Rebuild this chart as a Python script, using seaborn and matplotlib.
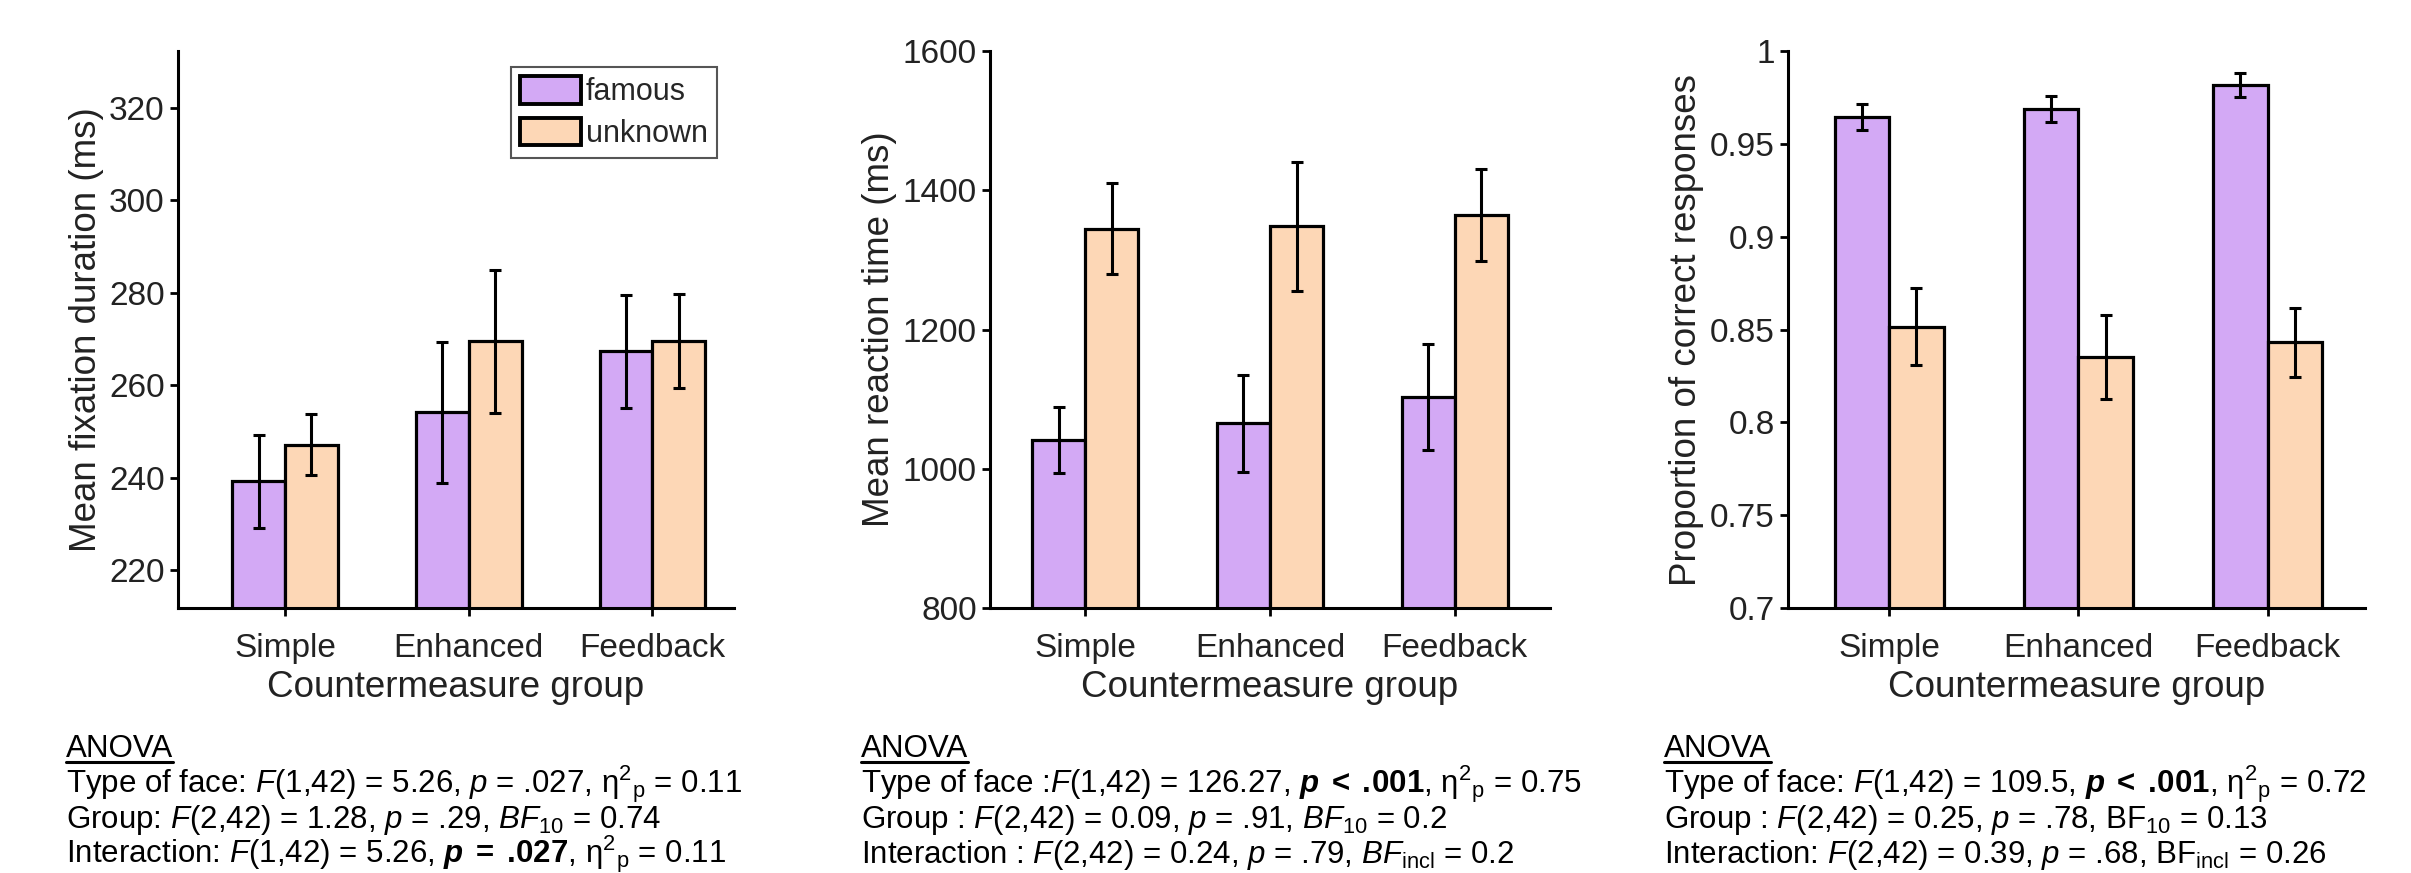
import seaborn as sb
import matplotlib.pyplot as plt
import matplotlib.patches as mpatches
from matplotlib.lines import Line2D
import pandas as pd

sb.set_style('ticks')
plt.rcParams['font.family'] = ['Liberation Sans', 'DejaVu Sans']
plt.rcParams['mathtext.fontset'] = 'custom'
plt.rcParams['mathtext.rm'] = 'Liberation Sans'
plt.rcParams['mathtext.it'] = 'Liberation Sans:italic'
plt.rcParams['mathtext.bf'] = 'Liberation Sans:bold'
plt.rcParams['mathtext.bfit'] = 'Liberation Sans:italic:bold'

groups = ['Simple', 'Enhanced', 'Feedback']
faces = ['famous', 'unknown']
colors = ['#D3A9F5', '#FDD7B6']

# fixation duration (ms)
fix_famous = [239.2, 254.1, 267.3]
fix_famous_err = [10.0, 15.3, 12.2]
fix_unknown = [247.1, 269.5, 269.6]
fix_unknown_err = [6.6, 15.5, 10.2]

# reaction time (ms)
rt_famous = [1041, 1065, 1103]
rt_famous_err = [47, 69, 76]
rt_unknown = [1345, 1348, 1364]
rt_unknown_err = [65, 92, 66]

# proportion correct
acc_famous = [0.9646, 0.9688, 0.9817]
acc_famous_err = [0.0070, 0.0072, 0.0063]
acc_unknown = [0.8515, 0.8351, 0.8431]
acc_unknown_err = [0.0207, 0.0225, 0.0185]

eta = r"$\mathrm{η}^{2}{}_{\mathrm{p}}$"
anova_fix = [
    r"Type of face: $F$(1,42) = 5.26, $p$ = .027, " + eta + " = 0.11",
    r"Group: $F$(2,42) = 1.28, $p$ = .29, $BF_{\mathrm{10}}$ = 0.74",
    r"Interaction: $F$(1,42) = 5.26, $\mathbfit{p}\;\mathbf{=}\;\mathbf{.\!027}$, " + eta + " = 0.11",
]
anova_rt = [
    r"Type of face :$F$(1,42) = 126.27, $\mathbfit{p}\;\mathbf{<}\;\mathbf{.\!001}$, " + eta + " = 0.75",
    r"Group : $F$(2,42) = 0.09, $p$ = .91, $BF_{\mathrm{10}}$ = 0.2",
    r"Interaction : $F$(2,42) = 0.24, $p$ = .79, $BF_{\mathrm{incl}}$ = 0.2",
]
anova_acc = [
    r"Type of face: $F$(1,42) = 109.5, $\mathbfit{p}\;\mathbf{<}\;\mathbf{.\!001}$, " + eta + " = 0.72",
    r"Group : $F$(2,42) = 0.25, $p$ = .78, $\mathrm{BF}_{\mathrm{10}}$ = 0.13",
    r"Interaction: $F$(2,42) = 0.39, $p$ = .68, $\mathrm{BF}_{\mathrm{incl}}$ = 0.26",
]

W, H = 2411, 873
fig = plt.figure(figsize=(W / 100, H / 100), dpi=100)


def panel(left, right, xlim, famous, fam_err, unknown, unk_err, ylim, yticks, yticklabels, ylabel):
    ax = fig.add_axes([left / W, (H - 608) / H, (right - left) / W, 557 / H])
    df = pd.DataFrame({'group': groups * 2,
                       'face': [faces[0]] * 3 + [faces[1]] * 3,
                       'value': famous + unknown})
    sb.barplot(data=df, x='group', y='value', hue='face', palette=colors, saturation=1,
               width=0.575, gap=0, edgecolor='black', linewidth=2.3, errorbar=None,
               legend=False, ax=ax)
    for cont, err in zip(ax.containers, [fam_err, unk_err]):
        xs = [b.get_x() + b.get_width() / 2 for b in cont]
        hs = [b.get_height() for b in cont]
        ax.errorbar(xs, hs, yerr=err, fmt='none', ecolor='black', elinewidth=2.2,
                    capsize=4, capthick=2.2, zorder=5)
    ax.set_xlim(*xlim)
    ax.set_ylim(*ylim)
    ax.set_yticks(yticks)
    ax.set_yticklabels(yticklabels)
    sb.despine(ax=ax)
    for s in ['left', 'bottom']:
        ax.spines[s].set_linewidth(2.2)
        ax.spines[s].set_color('black')
    ax.tick_params(axis='both', labelsize=24, labelcolor='#222', width=2, length=6, color='black')
    ax.tick_params(axis='x', pad=12)
    ax.set_xlabel('Countermeasure group', fontsize=26.5, color='#222', labelpad=4)
    ax.set_ylabel(ylabel, fontsize=26.5, color='#222')
    return ax


ax1 = panel(178, 734, (-0.583, 2.444), fix_famous, fix_famous_err, fix_unknown, fix_unknown_err,
            (211.8, 332.3), [220, 240, 260, 280, 300, 320], ['220', '240', '260', '280', '300', '320'],
            'Mean fixation duration (ms)')
ax2 = panel(990, 1550, (-0.517, 2.517), rt_famous, rt_famous_err, rt_unknown, rt_unknown_err,
            (800, 1600), [800, 1000, 1200, 1400, 1600], ['800', '1000', '1200', '1400', '1600'],
            'Mean reaction time (ms)')
ax3 = panel(1788, 2365, (-0.535, 2.515), acc_famous, acc_famous_err, acc_unknown, acc_unknown_err,
            (0.7, 1.0), [0.7, 0.75, 0.8, 0.85, 0.9, 0.95, 1.0],
            ['0.7', '0.75', '0.8', '0.85', '0.9', '0.95', '1'],
            'Proportion of correct responses')

handles = [mpatches.Patch(facecolor=c, edgecolor='black', linewidth=2.8, label=f)
           for c, f in zip(colors, faces)]
leg = ax1.legend(handles=handles, loc='upper right', bbox_to_anchor=(717 / W, 1 - 67 / H),
                 bbox_transform=fig.transFigure, fontsize=22, handlelength=2.0, handleheight=1.0,
                 handletextpad=0.15, labelspacing=0.35, borderpad=0.3, borderaxespad=0,
                 fancybox=False, framealpha=1)
leg.get_frame().set_edgecolor('#555')
leg.get_frame().set_linewidth(1.5)

renderer = fig.canvas.get_renderer()
for x0, lines in [(66, anova_fix), (861, anova_rt), (1664, anova_acc)]:
    t = fig.text(x0 / W, 1 - 757 / H, 'ANOVA', fontsize=22.5, va='baseline', color='black')
    bb = t.get_window_extent(renderer=renderer)
    y_ul = 1 - 762 / H
    fig.add_artist(Line2D([bb.x0 / W, bb.x1 / W], [y_ul, y_ul],
                          color='black', linewidth=2.2, transform=fig.transFigure))
    for i, s in enumerate(lines):
        fig.text(x0 / W, 1 - (793 + 35 * i) / H, s, fontsize=22.5, va='baseline', color='black')

plt.savefig('out.png', dpi=100)
